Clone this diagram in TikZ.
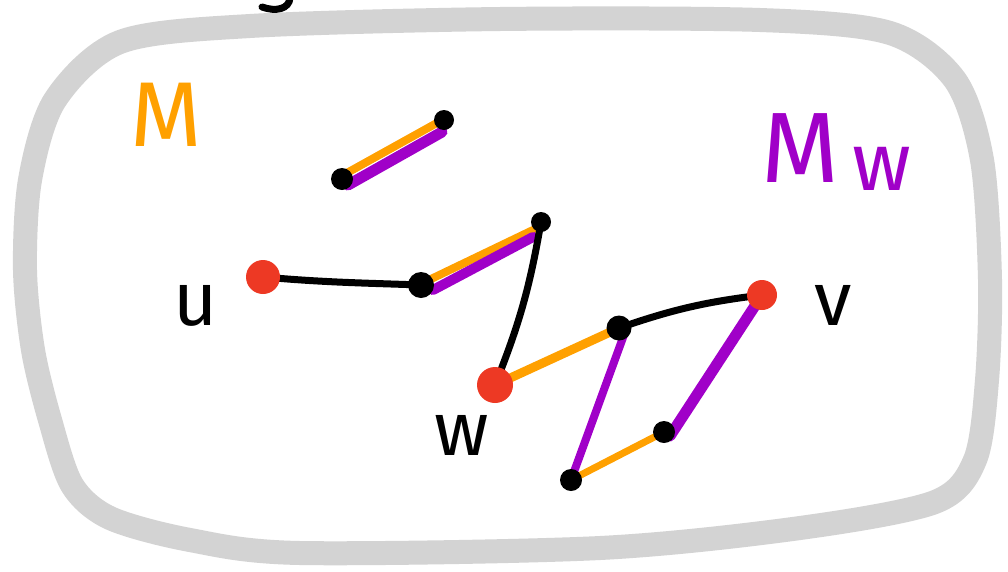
\documentclass[tikz,border=0pt]{standalone}
\usepackage{fontspec}
\setmainfont{Fira Sans}
\definecolor{frame}{RGB}{211,211,211}
\definecolor{morange}{RGB}{255,160,0}
\definecolor{mpurple}{RGB}{160,0,200}
\definecolor{vred}{RGB}{237,57,36}
\tikzset{
  redv/.style={circle,fill=vred,inner sep=0pt,minimum size=#1},
  blackv/.style={circle,fill=black,inner sep=0pt,minimum size=#1},
  blk/.style={draw=black,line width=7pt,line cap=round},
  ora/.style={draw=morange,line width=#1,line cap=round},
  pur/.style={draw=mpurple,line width=#1,line cap=round},
  lbl/.style={inner sep=0pt,font=\fontsize{#1}{#1}\selectfont}
}
\begin{document}
\begin{tikzpicture}[x=1pt,y=-1pt]
\useasboundingbox (0,0) rectangle (1008,571);
% frame
\draw[frame,line width=24pt,line join=round] plot[smooth cycle,tension=0.5] coordinates {
 (120,42) (250,26) (500,19) (760,20) (890,33) (955,80) (982,160) (990,280) (987,380)
 (975,460) (935,502) (800,528) (600,548) (300,553) (190,540) (110,518) (72,485)
 (50,420) (33,350) (25,270) (30,180) (55,100)};
% small stroke at top
\coordinate (s1) at (290,-2);
\coordinate (s2) at (262,7);
\draw[blk] (s1) .. controls (289,9) and (276,12) .. (s2);
% nodes (positions)
\coordinate (t1) at (342,179);
\coordinate (t2) at (444,120);
\coordinate (u) at (263,277);
\coordinate (a) at (421,285);
\coordinate (b) at (541,222);
\coordinate (w) at (495,385);
\coordinate (c) at (619,328);
\coordinate (v) at (762,295);
\coordinate (d) at (571,480);
\coordinate (e) at (664,432);
% edges
\draw[ora=8pt] ([shift={(3,-5)}]t1) -- ([shift={(0,-1)}]t2);
\draw[pur=11pt] ([shift={(6,6)}]t1) -- ([shift={(-2,12)}]t2);
\draw[blk] (u) to[out=-5,in=178] (a);
\draw[ora=8pt] ([shift={(10,-6)}]a) -- ([shift={(-8,8)}]b);
\draw[pur=10pt] ([shift={(12,5)}]a) -- ([shift={(-8,15)}]b);
\draw[blk] (b) to[bend left=6] (w);
\draw[ora=9pt] (w) -- (c);
\draw[blk] (c) to[bend left=6] (v);
\draw[pur=8pt] ([shift={(6,4)}]c) -- (d);
\draw[ora=7pt] (d) -- (e);
\draw[pur=11pt] ([shift={(6,4)}]e) -- (v);
% vertices
\node[blackv=22pt] (T1) at (t1) {};
\node[blackv=20pt] (T2) at (t2) {};
\node[redv=34pt] (U) at (u) {};
\node[blackv=26pt] (A) at (a) {};
\node[blackv=20pt] (B) at (b) {};
\node[redv=36pt] (W) at (w) {};
\node[blackv=25pt] (C) at (c) {};
\node[redv=30pt] (V) at (v) {};
\node[blackv=22pt] (D) at (d) {};
\node[blackv=22pt] (E) at (e) {};
% labels
\node[lbl=92pt,text=morange,anchor=base] (lM) at (166,146) {M};
\node[lbl=100pt,text=mpurple,anchor=base] (lMw) at (800,182) {M};
\node[lbl=82pt,text=mpurple,anchor=base] (lw2) at (882,190) {w};
\node[lbl=76pt,text=black,anchor=base] (lu) at (196,325) {u};
\node[lbl=76pt,text=black,anchor=base] (lw) at (462,455) {w};
\node[lbl=76pt,text=black,anchor=base] (lv) at (833,325) {v};
\end{tikzpicture}
\end{document}
